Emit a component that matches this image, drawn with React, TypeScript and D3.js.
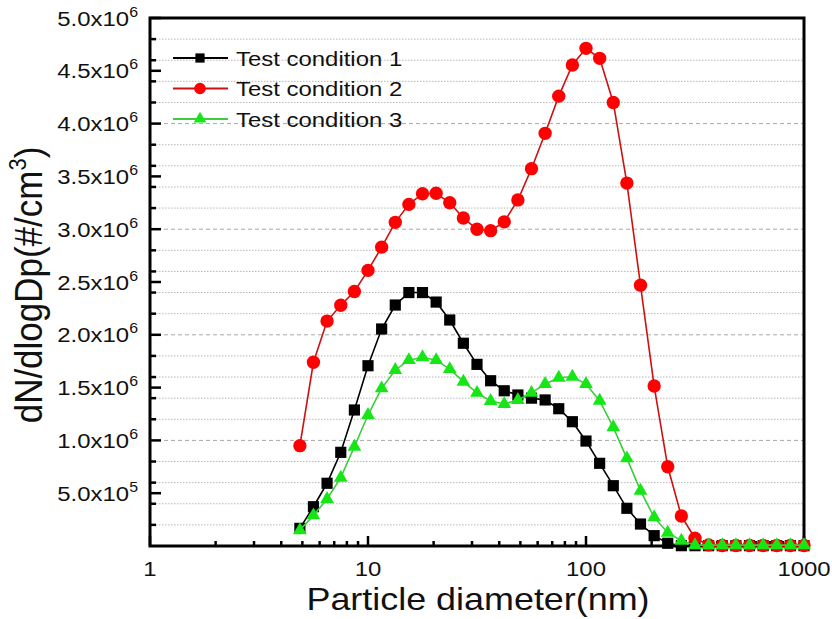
import React from 'react';
import * as d3 from 'd3';

// Particle diameter bins (nm)
const diameters = [
  4.87, 5.62, 6.49, 7.5, 8.66, 10.0, 11.55, 13.34, 15.4, 17.78,
  20.54, 23.71, 27.38, 31.62, 36.52, 42.17, 48.7, 56.23, 64.94, 74.99,
  86.6, 100, 115.5, 133.4, 154, 177.8, 205.4, 237.1, 273.8, 316.2,
  365.2, 421.7, 487, 562.3, 649.4, 749.9, 866, 1000,
];

// dN/dlogDp values, in units of 1e6 #/cm^3
const cond1 = [
  0.167, 0.372, 0.594, 0.887, 1.288, 1.707, 2.055, 2.282, 2.4, 2.4,
  2.31, 2.14, 1.92, 1.72, 1.565, 1.47, 1.43, 1.4, 1.383, 1.3,
  1.177, 0.994, 0.783, 0.571, 0.357, 0.208, 0.098, 0.026, 0.003, 0.003,
  0.003, 0.003, 0.003, 0.003, 0.003, 0.003, 0.003, 0.003,
];
const cond2 = [
  0.95, 1.74, 2.13, 2.28, 2.41, 2.61, 2.83, 3.065, 3.235, 3.336,
  3.34, 3.25, 3.106, 3.0, 2.986, 3.07, 3.277, 3.573, 3.908, 4.26,
  4.555, 4.713, 4.618, 4.2, 3.437, 2.47, 1.515, 0.75, 0.284, 0.073,
  0.01, 0.005, 0.005, 0.005, 0.005, 0.005, 0.005, 0.005,
];
const cond3 = [
  0.15, 0.29, 0.445, 0.647, 0.94, 1.24, 1.493, 1.667, 1.76, 1.787,
  1.76, 1.675, 1.556, 1.45, 1.373, 1.345, 1.383, 1.45, 1.534, 1.594,
  1.603, 1.534, 1.376, 1.124, 0.83, 0.524, 0.272, 0.126, 0.05, 0.008,
  0.008, 0.008, 0.008, 0.008, 0.008, 0.008, 0.008, 0.008,
];

const seriesNames = ['Test condition 1', 'Test condition 2', 'Test condition 3'];
const yTickValues = [5e5, 1e6, 1.5e6, 2e6, 2.5e6, 3e6, 3.5e6, 4e6, 4.5e6, 5e6];
const xTickValues = [1, 10, 100, 1000];
const xTickLabels = ['1', '10', '100', '1000'];
const xTitle = 'Particle diameter(nm)';

const W = 832;
const H = 619;
const L = 150, R = 804, T = 18, B = 546;
const FONT = "'Liberation Sans', Arial, Helvetica, sans-serif";
const SX = 1.14;

const styles = [
  { line: '#000000', fill: '#000000', symbol: d3.symbolSquare, size: 125, lsize: 85 },
  { line: '#cc1111', fill: '#ff0000', symbol: d3.symbolCircle, size: 140, lsize: 105 },
  { line: '#3ccc3c', fill: '#16e616', symbol: d3.symbolTriangle, size: 82, lsize: 68 },
];

const x = d3.scaleLog().domain([1, 1000]).range([L, R]);
const y = d3.scaleLinear().domain([0, 5e6]).range([B, T]);

function Txt(props: { x: number; y: number; size: number; anchor?: string; children: React.ReactNode; sx?: number }) {
  const s = props.sx ?? SX;
  return (
    <text
      transform={`translate(${props.x},${props.y}) scale(${s},1)`}
      fontFamily={FONT}
      fontSize={props.size}
      textAnchor={props.anchor ?? 'start'}
      fill="#111"
    >
      {props.children}
    </text>
  );
}

export default function App() {
  const series = [cond1, cond2, cond3].map((vals) =>
    vals.map((v, i) => ({ d: diameters[i], v: v * 1e6 }))
  );
  const line = d3
    .line<{ d: number; v: number }>()
    .x((p) => x(p.d))
    .y((p) => y(p.v));

  const gridVals = y.ticks(20).filter((v) => v > 0 && v < 5e6);
  const xMinor = x.ticks().filter((v) => !xTickValues.includes(v));
  const yMinor = gridVals.filter((v) => !yTickValues.includes(v));

  const fmtMant = (v: number) => {
    const e = Math.floor(Math.log10(v));
    return { m: (v / Math.pow(10, e)).toFixed(1), e };
  };

  return (
    <svg width={W} height={H} style={{ position: 'absolute', left: 0, top: 0, background: '#fff' }}>
      <rect x={0} y={0} width={W} height={H} fill="#fff" />
      {/* grid */}
      {gridVals.map((v) => {
        const major = yTickValues.includes(v);
        return (
          <line
            key={'g' + v}
            x1={L}
            x2={R}
            y1={y(v)}
            y2={y(v)}
            stroke={major ? '#a8a8a8' : '#b8b8b8'}
            strokeWidth={1}
            strokeDasharray={major ? '4,3' : '1.5,1.5'}
          />
        );
      })}
      {/* y ticks */}
      {yTickValues.map((v) => (
        <line key={'yt' + v} x1={L} x2={L + 11} y1={y(v)} y2={y(v)} stroke="#000" strokeWidth={2.5} />
      ))}
      {yMinor.map((v) => (
        <line key={'ym' + v} x1={L} x2={L + 6} y1={y(v)} y2={y(v)} stroke="#000" strokeWidth={2.5} />
      ))}
      {/* x ticks */}
      {xTickValues.map((v) => (
        <line key={'xt' + v} x1={x(v)} x2={x(v)} y1={B} y2={B - 10} stroke="#000" strokeWidth={2.5} />
      ))}
      {xMinor.map((v) => (
        <line key={'xm' + v} x1={x(v)} x2={x(v)} y1={B} y2={B - 5} stroke="#000" strokeWidth={2.5} />
      ))}
      {/* frame */}
      <rect x={L} y={T} width={R - L} height={B - T} fill="none" stroke="#000" strokeWidth={3} />

      {/* y tick labels */}
      {yTickValues.map((v) => {
        const { m, e } = fmtMant(v);
        return (
          <Txt key={'yl' + v} x={138} y={y(v) + 7.5} size={21} anchor="end">
            {m + 'x10'}
            <tspan fontSize={14} dy={-9}>{String(e)}</tspan>
          </Txt>
        );
      })}
      {/* x tick labels */}
      {xTickValues.map((v, i) => (
        <Txt key={'xl' + v} x={x(v)} y={576} size={21} anchor="middle">
          {xTickLabels[i]}
        </Txt>
      ))}
      {/* axis titles */}
      <Txt x={478} y={610} size={31.5} anchor="middle">
        {xTitle}
      </Txt>
      <text
        transform={`translate(42,285) rotate(-90) scale(1,1.12)`}
        fontFamily={FONT}
        fontSize={35}
        textAnchor="middle"
        fill="#111"
      >
        dN/dlogDp(#/cm<tspan fontSize={22} dy={-14}>3</tspan>
        <tspan dy={14}>)</tspan>
      </text>

      {/* series */}
      {series.map((pts, si) => (
        <g key={'s' + si}>
          <path d={line(pts) || ''} fill="none" stroke={styles[si].line} strokeWidth={1.6} />
          {pts.map((p, i) => (
            <path
              key={i}
              transform={`translate(${x(p.d)},${y(p.v)})`}
              d={d3.symbol().type(styles[si].symbol).size(styles[si].size)() || ''}
              fill={styles[si].fill}
            />
          ))}
        </g>
      ))}

      {/* legend */}
      {seriesNames.map((name, i) => {
        const cy = 58 + i * 30.5;
        return (
          <g key={'lg' + i}>
            <line x1={173} x2={228} y1={cy} y2={cy} stroke={styles[i].line} strokeWidth={1.8} />
            <path
              transform={`translate(200,${cy})`}
              d={d3.symbol().type(styles[i].symbol).size(styles[i].lsize)() || ''}
              fill={styles[i].fill}
            />
            <Txt x={236} y={cy + 7.5} size={21}>
              {name}
            </Txt>
          </g>
        );
      })}
    </svg>
  );
}
